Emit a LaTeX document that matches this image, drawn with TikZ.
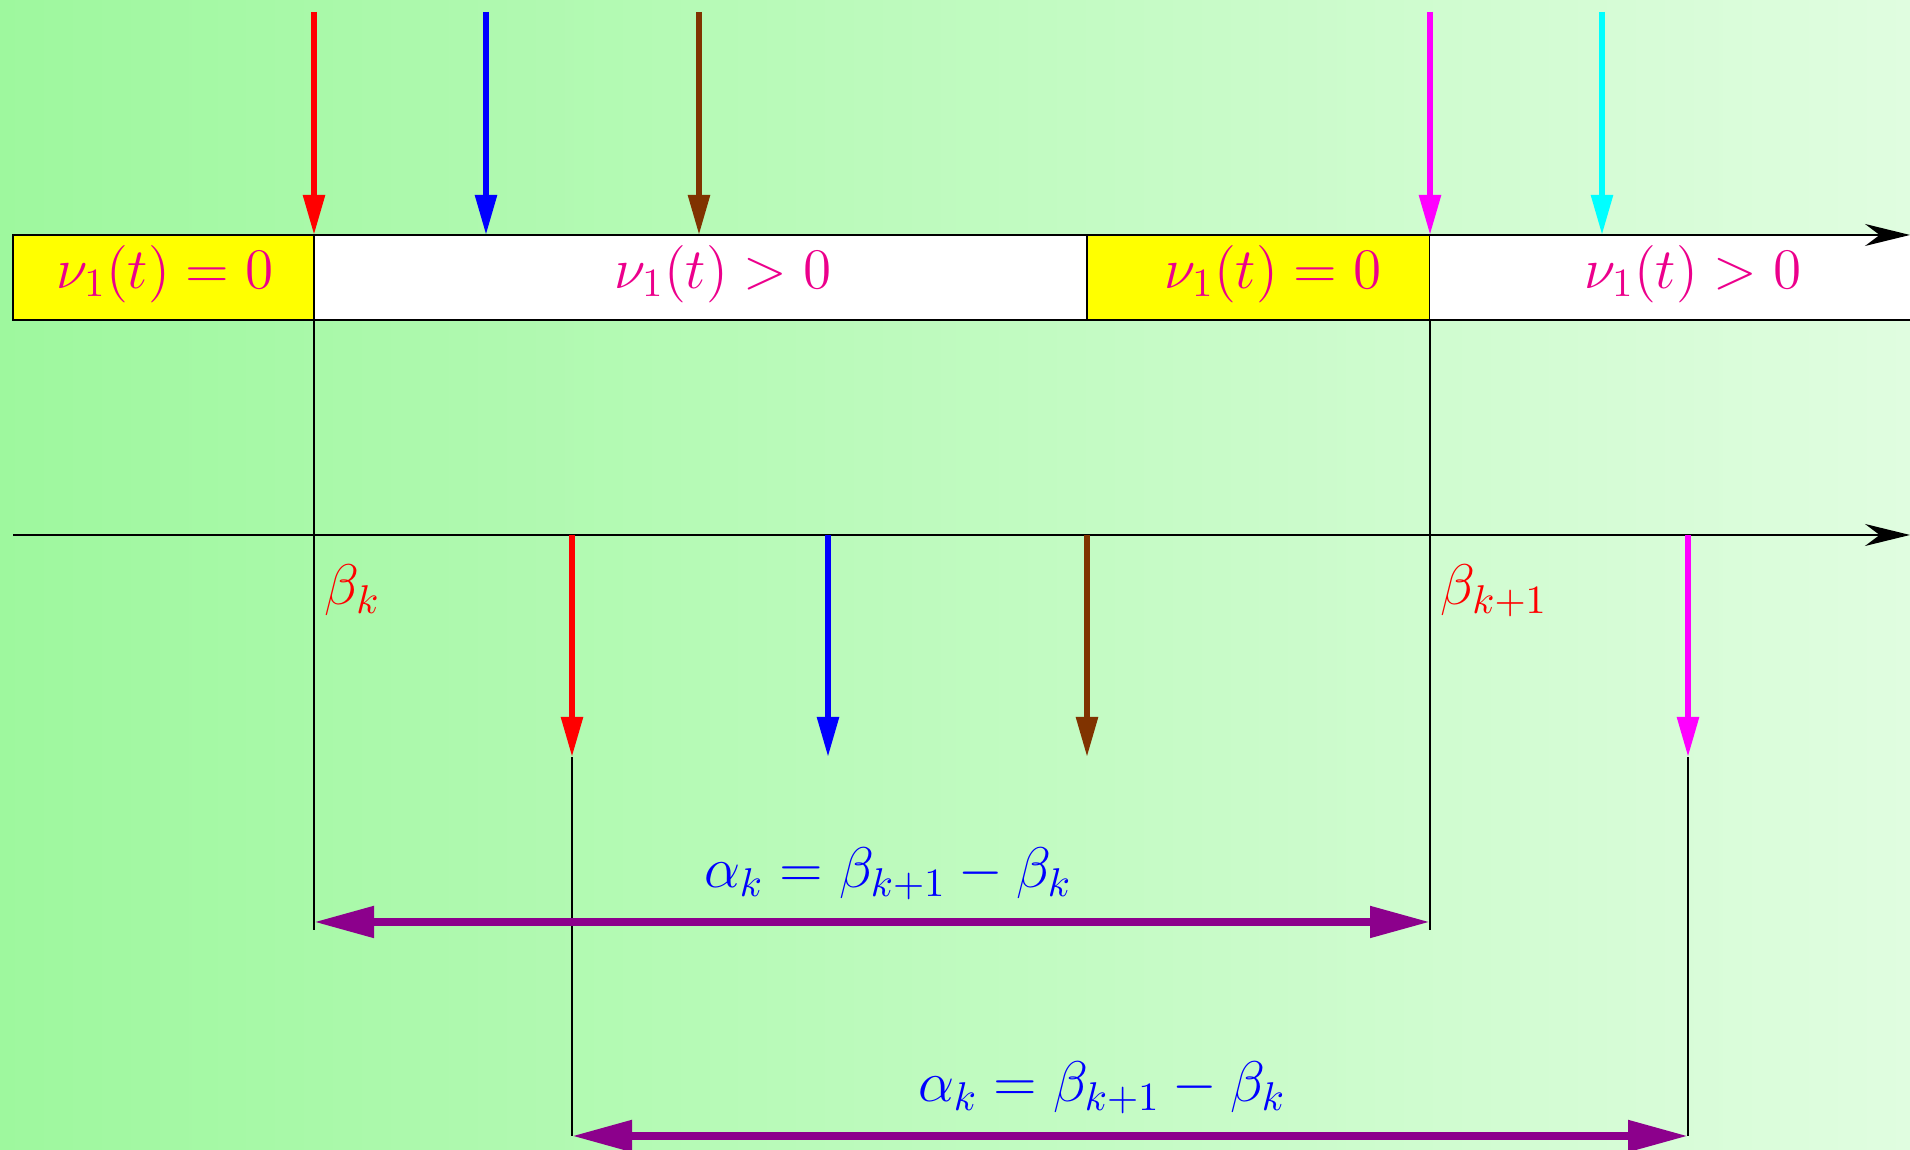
\RequirePackage{fix-cm}
\documentclass[tikz,border=0pt]{standalone}
\usetikzlibrary{arrows.meta}
\definecolor{bgleft}{RGB}{158,248,158}
\definecolor{bgright}{RGB}{224,253,224}
\definecolor{statecol}{RGB}{236,0,140}
\definecolor{brownarr}{RGB}{128,51,0}
\definecolor{spancol}{RGB}{140,0,140}
\definecolor{magarr}{RGB}{255,0,255}
\definecolor{cyanarr}{RGB}{0,255,255}
\definecolor{idlefill}{RGB}{255,255,0}
\begin{document}
\begin{tikzpicture}[font=\fontsize{16.3}{19}\selectfont,
    evt/.style={line width=1.6pt, -{Triangle[length=4mm,width=2.1mm]}},
    span/.style={spancol, line width=2.3pt, {Triangle[length=6mm,width=3mm]}-{Triangle[length=6mm,width=3mm]}},
    axis/.style={-{Stealth[length=4.5mm,width=2.2mm]}},
    state/.style={statecol}]
  \useasboundingbox (0,0) rectangle (19.1,11.5);
  \shade[left color=bgleft, right color=bgright] (0,0) rectangle (19.1,11.5);
  % upper band
  \draw[fill=idlefill] (0.13,8.30) rectangle (3.14,9.15);
  \draw[fill=white] (3.14,8.30) rectangle (10.87,9.15);
  \draw[fill=idlefill] (10.87,8.30) rectangle (14.30,9.15);
  \fill[white] (14.30,8.30) rectangle (19.1,9.15);
  \draw (14.30,8.30) -- (19.1,8.30);
  \draw[axis] (0.13,9.15) coordinate (ta0) -- (19.1,9.15) coordinate (ta1);
  \node[state] (s1) at (1.65,8.76) {$\nu_1(t)=0$};
  \node[state] (s2) at (7.23,8.76) {$\nu_1(t)>0$};
  \node[state] (s3) at (12.73,8.76) {$\nu_1(t)=0$};
  \node[state] (s4) at (16.93,8.76) {$\nu_1(t)>0$};
  \foreach \x/\c in {3.14/red, 4.86/blue, 6.99/brownarr, 14.30/magarr, 16.02/cyanarr}
    \draw[evt, \c] (\x,11.38) -- (\x,9.15);
  % lower axis
  \draw[axis] (0.13,6.15) coordinate (la0) -- (19.1,6.15) coordinate (la1);
  \foreach \x/\c in {5.72/red, 8.28/blue, 10.87/brownarr, 16.88/magarr}
    \draw[evt, \c] (\x,6.15) -- (\x,3.93);
  \coordinate (bk) at (3.14,8.30);
  \coordinate (bk1) at (14.30,8.30);
  \coordinate (dk) at (5.72,3.93);
  \coordinate (dk1) at (16.88,3.93);
  \draw (bk) -- (3.14,2.20) coordinate (bkend);
  \draw (bk1) -- (14.30,2.20) coordinate (bk1end);
  \draw (dk) -- (5.72,0.14) coordinate (dkend);
  \draw (dk1) -- (16.88,0.14) coordinate (dk1end);
  \node[red, anchor=base west, inner sep=0pt] (lbk) at (3.24,5.45) {$\beta_k$};
  \node[red, anchor=base west, inner sep=0pt] (lbk1) at (14.40,5.45) {$\beta_{k+1}$};
  % spans
  \draw[span] (3.14,2.28) -- (14.30,2.28);
  \draw[span] (dkend) -- (dk1end);
  \node[blue, anchor=base] (al1) at (8.88,2.62) {$\alpha_k=\beta_{k+1}-\beta_k$};
  \node[blue, anchor=base] (al2) at (11.02,0.48) {$\alpha_k=\beta_{k+1}-\beta_k$};
\end{tikzpicture}
\end{document}
